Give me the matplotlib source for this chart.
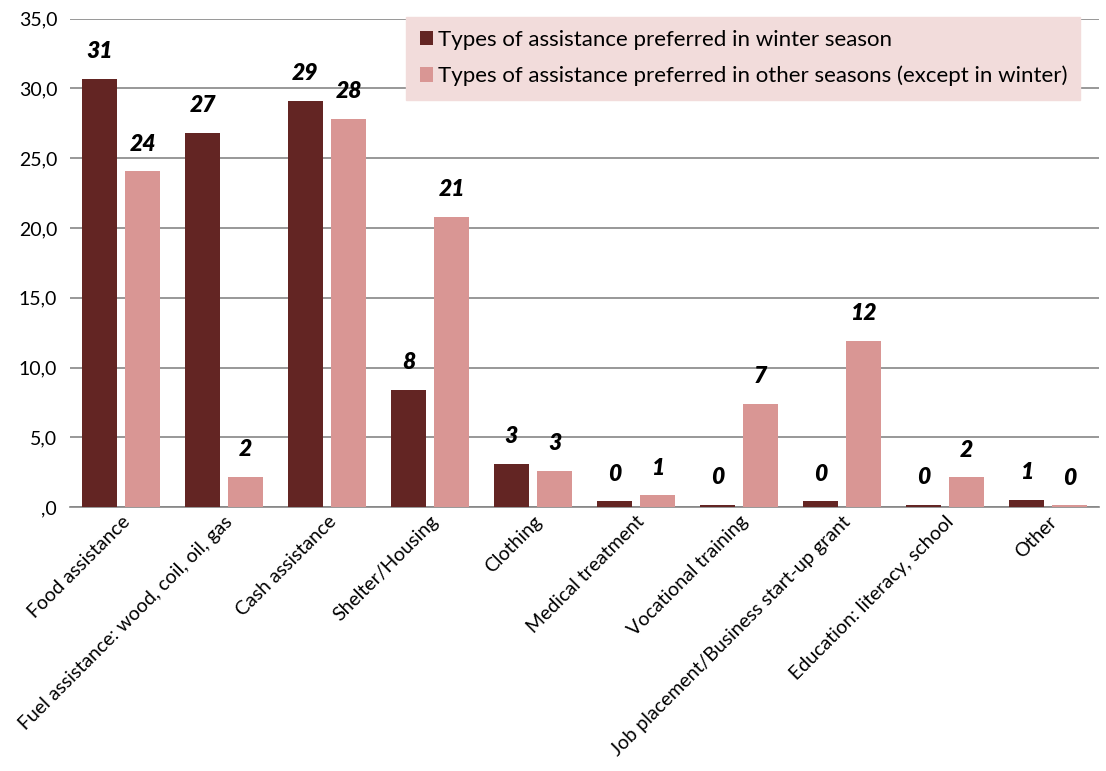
import matplotlib
matplotlib.use("Agg")
import matplotlib.pyplot as plt
import numpy as np
from matplotlib.ticker import FuncFormatter

categories = ["Food assistance", "Fuel assistance: wood, coil, oil, gas", "Cash assistance",
              "Shelter/Housing", "Clothing", "Medical treatment", "Vocational training",
              "Job placement/Business start-up grant", "Education: literacy, school", "Other"]
winter = [30.7, 26.8, 29.1, 8.4, 3.1, 0.43, 0.2, 0.43, 0.2, 0.55]
other = [24.05, 2.2, 27.8, 20.8, 2.6, 0.86, 7.4, 11.9, 2.15, 0.14]
series_names = ["Types of assistance preferred in winter season",
                "Types of assistance preferred in other seasons (except in winter)"]

plt.rcParams['font.family'] = ['Lato', 'DejaVu Sans']

fig = plt.figure(figsize=(11.06, 7.71), dpi=100)
ax = fig.add_axes([0.063, 0.342, 0.931, 0.634])

x = np.arange(len(categories))
w = 0.34
off = 0.21
dark = "#632523"
light = "#D99694"
b1 = ax.bar(x - off, winter, w, color=dark, label=series_names[0], zorder=3)
b2 = ax.bar(x + off, other, w, color=light, label=series_names[1], zorder=3)

for bars, vals in ((b1, winter), (b2, other)):
    for rect, v in zip(bars, vals):
        ax.annotate(f"{v:.0f}", (rect.get_x() + rect.get_width() / 2, v),
                    xytext=(0, 12), textcoords="offset points", ha="center", va="bottom",
                    fontsize=16.5, fontweight="heavy", fontstyle="italic", color="black")

ax.set_xlim(-0.5, len(categories) - 0.5)
ax.set_ylim(0, 35)
ax.set_yticks(np.arange(0, 35.1, 5))
ax.yaxis.set_major_formatter(FuncFormatter(lambda v, p: ",0" if v == 0 else f"{v:.1f}".replace(".", ",")))
ax.grid(axis="y", color="#868686", linewidth=1.2, zorder=0)
ax.set_axisbelow(True)
for s in ("top", "right", "left"):
    ax.spines[s].set_visible(False)
ax.spines["bottom"].set_color("#868686")
ax.spines["bottom"].set_linewidth(1.2)
ax.tick_params(axis="y", length=0, labelsize=14, pad=9)
ax.tick_params(axis="x", length=0, labelsize=14, pad=4)
ax.set_xticks(x)
ax.set_xticklabels(categories, rotation=45, ha="right", rotation_mode="anchor")

leg = ax.legend(loc="upper right", bbox_to_anchor=(0.988, 1.017), frameon=True, fontsize=16,
                handlelength=0.6, handleheight=0.6, handletextpad=0.2, labelspacing=0.7,
                borderpad=0.6, borderaxespad=0.3, fancybox=False)
leg.get_frame().set_facecolor("#F2DCDB")
leg.get_frame().set_edgecolor("#F2DCDB")
leg.get_frame().set_alpha(1)

fig.savefig("out.png", dpi=100)
